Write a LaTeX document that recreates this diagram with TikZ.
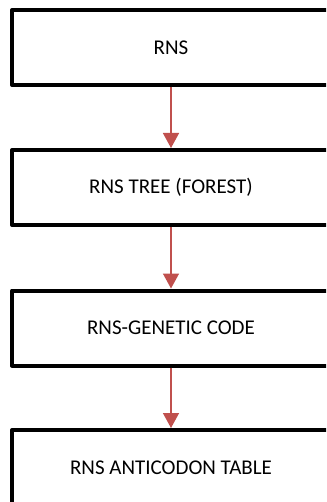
\documentclass[tikz,border=0pt]{standalone}
\usepackage{fontspec}
\setmainfont{Carlito}
\usetikzlibrary{arrows.meta}
\definecolor{arrowred}{HTML}{C0504D}
\tikzset{
  stagebox/.style={draw=black, line width=4pt, fill=white, minimum width=318pt, minimum height=75pt,
    inner sep=0pt, font=\fontsize{21}{25}\selectfont, line join=round},
  flowarrow/.style={draw=arrowred, line width=1.5pt, -{Triangle[width=16pt,length=15pt]}}
}
\begin{document}
\begin{tikzpicture}[x=1pt,y=-1pt]
\useasboundingbox (0,0) rectangle (326,502);
\clip (0,0) rectangle (326,502);
\fill[white] (0,0) rectangle (326,502);
\node[stagebox] (n1) at (171,47.5) {RNS};
\node[stagebox] (n2) at (171,187.5) {RNS TREE (FOREST)};
\node[stagebox] (n3) at (171,328) {RNS-GENETIC CODE};
\node[stagebox] (n4) at (171,467.5) {RNS ANTICODON TABLE};
\draw[flowarrow] (n1.south) -- (n2.north);
\draw[flowarrow] (n2.south) -- (n3.north);
\draw[flowarrow] (n3.south) -- (n4.north);
\end{tikzpicture}
\end{document}
